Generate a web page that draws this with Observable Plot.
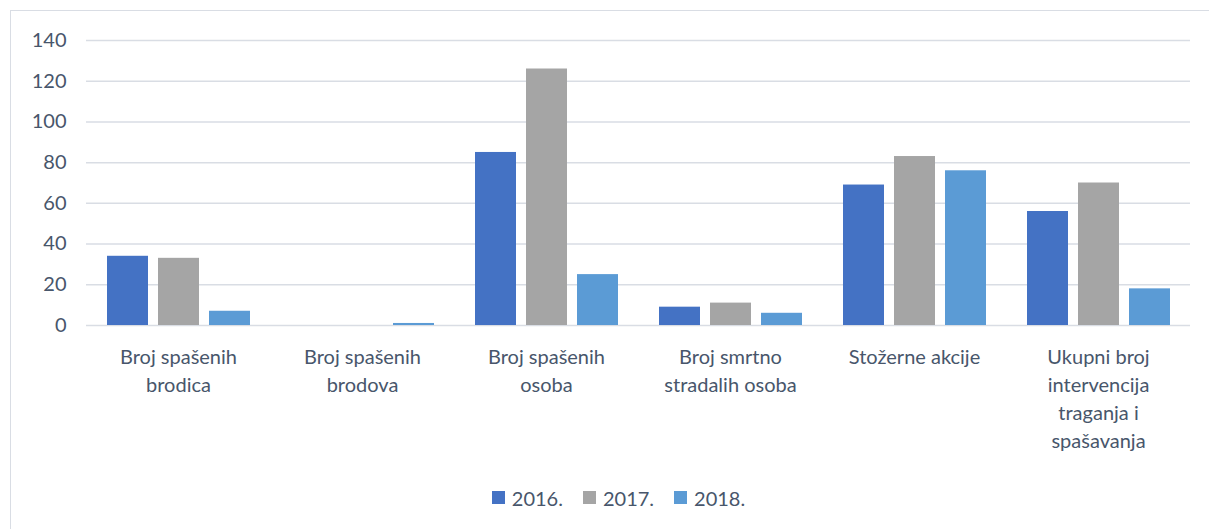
<!DOCTYPE html>
<html>
<head>
<meta charset="utf-8">
<script src="https://cdn.jsdelivr.net/npm/d3@7"></script>
<script src="https://cdn.jsdelivr.net/npm/@observablehq/plot@0.6"></script>
<style>
  html, body { margin: 0; padding: 0; background: #fff; width: 1209px; height: 529px; overflow: hidden; }
  #frame { position: absolute; left: 10px; top: 10px; width: 1400px; height: 700px;
           border-left: 1.5px solid #d9dde4; border-top: 1.5px solid #d9dde4; }
  #chart { position: absolute; left: 0; top: 0; }
  #legend { position: absolute; left: 24px; top: 481px; width: 1209px; display: flex; justify-content: center; }
  #legend .plot-swatches, #legend div { font-family: Lato, "Open Sans", sans-serif; font-size: 20px; color: #48566b; }
  #legend svg { margin-right: 7px !important; }
</style>
</head>
<body>
<div id="frame"></div>
<div id="chart"></div>
<div id="legend"></div>
<script>
const categories = [
  "Broj spašenih brodica",
  "Broj spašenih brodova",
  "Broj spašenih osoba",
  "Broj smrtno stradalih osoba",
  "Stožerne akcije",
  "Ukupni broj intervencija traganja i spašavanja"
];
const categoryLabels = [
  "Broj spašenih\nbrodica",
  "Broj spašenih\nbrodova",
  "Broj spašenih\nosoba",
  "Broj smrtno\nstradalih osoba",
  "Stožerne akcije",
  "Ukupni broj\nintervencija\ntraganja i\nspašavanja"
];
const years = ["2016.", "2017.", "2018."];
const values2016 = [34, 0, 85, 9, 69, 56];
const values2017 = [33, 0, 126, 11, 83, 70];
const values2018 = [7, 1, 25, 6, 76, 18];
const colors = ["#4472C4", "#A5A5A5", "#5B9BD5"];
const yTicks = [0, 20, 40, 60, 80, 100, 120, 140];

const series = [values2016, values2017, values2018];
const data = [];
categories.forEach((c, i) => {
  years.forEach((y, j) => data.push({category: c, year: y, value: series[j][i]}));
});
const labelOf = new Map(categories.map((c, i) => [c, categoryLabels[i]]));

const font = 'Lato, "Open Sans", sans-serif';
const textColor = "#48566b";

const chart = Plot.plot({
  width: 1209,
  height: 470,
  marginLeft: 86,
  marginRight: 19,
  marginTop: 40,
  marginBottom: 145,
  style: {fontFamily: font, fontSize: "20px", color: textColor, background: "transparent"},
  fx: {domain: categories, padding: 0, label: null, axis: null},
  x: {domain: years, paddingInner: 0.2, paddingOuter: 0.4, axis: null},
  y: {domain: [0, 140], label: null},
  color: {domain: years, range: colors},
  marks: [
    Plot.gridY(yTicks, {stroke: "#d9dde4", strokeOpacity: 1, strokeWidth: 1.5}),
    Plot.axisY({ticks: yTicks, tickSize: 0, tickPadding: 20, label: null, fill: textColor, fontSize: 20}),
    Plot.axisFx({anchor: "bottom", tickSize: 0, tickPadding: 19, label: null, tickFormat: d => labelOf.get(d), lineHeight: 1.4, fill: textColor, fontSize: 20}),
    Plot.barY(data, {fx: "category", x: "year", y: "value", fill: "year"})
  ]
});
document.getElementById("chart").appendChild(chart);

const legend = Plot.legend({
  color: {domain: years, range: colors},
  swatchSize: 13,
  style: {fontFamily: font, fontSize: "20px", color: textColor}
});
document.getElementById("legend").appendChild(legend);
</script>
</body>
</html>
